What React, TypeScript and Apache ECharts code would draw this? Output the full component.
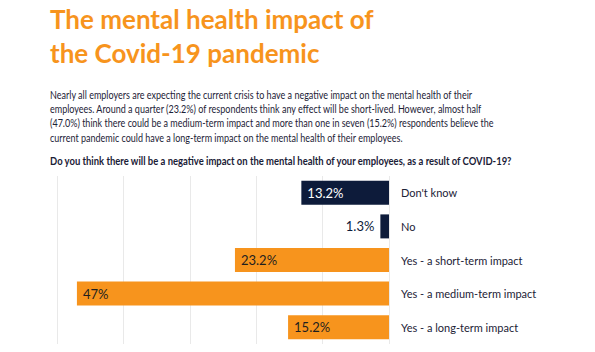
import React, { useEffect, useRef } from "react";
import * as echarts from "echarts";

const categories = [
  "Don't know",
  "No",
  "Yes - a short-term impact",
  "Yes - a medium-term impact",
  "Yes - a long-term impact",
];
const values = [13.2, 1.3, 23.2, 47, 15.2];
const valueLabels = ["13.2%", "1.3%", "23.2%", "47%", "15.2%"];
const barColors = ["#0d1b3a", "#0d1b3a", "#f7941d", "#f7941d", "#f7941d"];
const labelColors = ["#ffffff", "#0d1b3a", "#1f1f1f", "#1f1f1f", "#1f1f1f"];
const labelPositions = ["insideLeft", "left", "insideLeft", "insideLeft", "insideLeft"];

const titleLines = ["The mental health impact of", "the Covid-19 pandemic"];
const paragraphLines = [
  "Nearly all employers are expecting the current crisis to have a negative impact on the mental health of their",
  "employees. Around a quarter (23.2%) of respondents think any effect will be short-lived. However, almost half",
  "(47.0%) think there could be a medium-term impact and more than one in seven (15.2%) respondents believe the",
  "current pandemic could have a long-term impact on the mental health of their employees.",
];
const question =
  "Do you think there will be a negative impact on the mental health of your employees, as a result of COVID-19?";

export default function App() {
  const ref = useRef<HTMLDivElement>(null);
  useEffect(() => {
    if (!ref.current) return;
    const chart = echarts.init(ref.current, undefined, { renderer: "svg" });
    const graphics: any[] = [];
    titleLines.forEach((t, i) => {
      graphics.push({
        type: "text",
        x: 50,
        y: 6 + i * 34,
        style: {
          text: t,
          fill: "#f7941d",
          font: "bold 26px Lato",
        },
      });
    });
    paragraphLines.forEach((t, i) => {
      graphics.push({
        type: "text",
        x: 50,
        y: 89 + i * 14.3,
        scaleX: 0.82,
        style: {
          text: t,
          fill: "#1c2236",
          font: "11px Lato",
        },
      });
    });
    graphics.push({
      type: "text",
      x: 50,
      y: 155,
      scaleX: 0.86,
      style: {
        text: question,
        fill: "#1a2036",
        font: "bold 11px Lato",
      },
    });

    chart.setOption({
      animation: false,
      graphic: graphics,
      grid: { left: 57, right: 206, top: 176, bottom: 8, containLabel: false },
      xAxis: {
        type: "value",
        min: 0,
        max: 50,
        interval: 10,
        inverse: true,
        axisLabel: { show: false },
        axisLine: { show: false },
        axisTick: { show: false },
        splitLine: { show: true, lineStyle: { color: "#e9e9e9", width: 1 } },
      },
      yAxis: {
        type: "category",
        data: categories,
        inverse: true,
        position: "right",
        axisLine: { show: false },
        axisTick: { show: false },
        axisLabel: {
          margin: 12,
          color: "#1c2236",
          fontFamily: "Lato",
          fontSize: 11,
          align: "left",
        },
      },
      series: [
        {
          type: "bar",
          barWidth: 24,
          data: values.map((v, i) => ({
            value: v,
            itemStyle: { color: barColors[i] },
            label: {
              show: true,
              position: labelPositions[i],
              distance: 6,
              formatter: valueLabels[i],
              color: labelColors[i],
              fontFamily: "Lato",
              fontSize: 13,
            },
          })),
        },
      ],
    });
    return () => chart.dispose();
  }, []);
  return <div ref={ref} style={{ width: 595, height: 352, position: "absolute", left: 0, top: 0 }} />;
}
